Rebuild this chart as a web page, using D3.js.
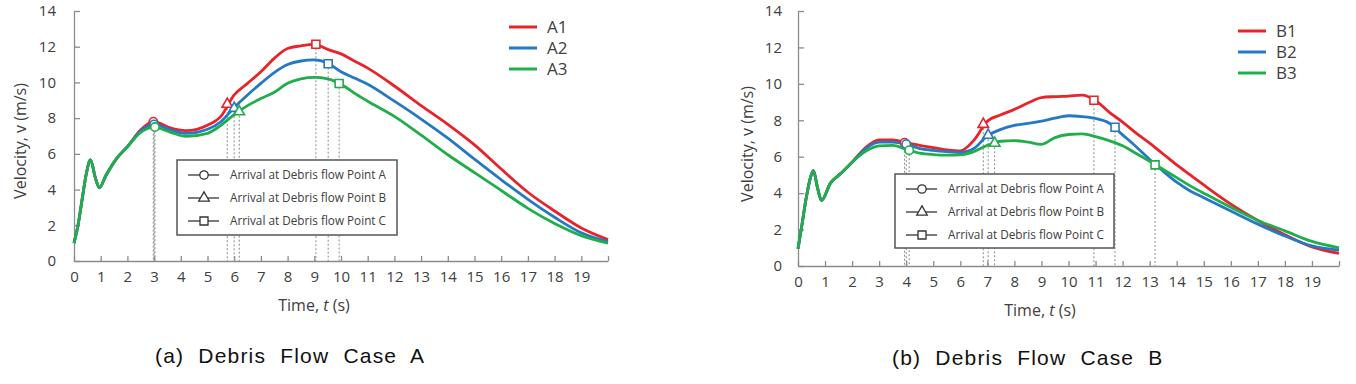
<!DOCTYPE html>
<html>
<head>
<meta charset="utf-8">
<script src="https://cdn.jsdelivr.net/npm/d3@7"></script>
<style>
  body { margin: 0; background: #fff; }
  svg text { font-family: "Open Sans", sans-serif; fill: #404040; }
  .caption { font-family: "Liberation Sans", Arial, sans-serif; fill: #111; }
</style>
</head>
<body>
<svg id="chart" width="1356" height="384"></svg>
<script>
// --- DATA: case A ---
const timeA = [0, 0.15, 0.3, 0.45, 0.62, 0.8, 0.95, 1.2, 1.6, 2.0, 2.5, 3.0, 3.6, 4.2, 5.0, 5.5, 6.0, 6.5, 7.0, 7.5, 8.0, 8.5, 9.0, 9.5, 10, 10.5, 11, 12, 13, 14, 15, 16, 17, 18, 19, 20];
const velA1 = [1.0, 2.0, 3.4, 4.8, 5.66, 4.65, 4.1, 4.8, 5.75, 6.4, 7.35, 7.8, 7.45, 7.3, 7.6, 8.1, 9.3, 9.95, 10.6, 11.35, 11.9, 12.05, 12.13, 11.85, 11.6, 11.2, 10.8, 9.8, 8.7, 7.65, 6.5, 5.15, 3.85, 2.8, 1.85, 1.2];
const velA2 = [1.0, 2.0, 3.4, 4.8, 5.66, 4.65, 4.1, 4.8, 5.75, 6.4, 7.28, 7.65, 7.35, 7.15, 7.38, 7.8, 8.6, 9.3, 9.95, 10.55, 11.0, 11.2, 11.26, 11.08, 10.6, 10.25, 9.9, 8.95, 7.95, 6.88, 5.7, 4.55, 3.45, 2.45, 1.58, 1.08];
const velA3 = [1.0, 2.0, 3.4, 4.8, 5.66, 4.65, 4.1, 4.8, 5.75, 6.4, 7.2, 7.5, 7.22, 6.98, 7.15, 7.6, 8.2, 8.7, 9.1, 9.45, 9.95, 10.2, 10.28, 10.2, 9.9, 9.4, 8.95, 8.1, 7.05, 5.95, 4.95, 3.95, 2.95, 2.1, 1.42, 1.0];
// arrival markers [t, v] per series (1, 2, 3)
const arrivalA_pointA = [[2.97, 7.8], [3.0, 7.65], [3.03, 7.5]];
const arrivalA_pointB = [[5.74, 8.78], [6.0, 8.55], [6.19, 8.36]];
const arrivalA_pointC = [[9.06, 12.14], [9.52, 11.05], [9.93, 9.94]];

// --- DATA: case B ---
const timeB = [0, 0.15, 0.3, 0.45, 0.57, 0.72, 0.87, 1.2, 1.6, 2.0, 2.5, 3.0, 3.5, 4.0, 4.5, 5.0, 5.5, 6.0, 6.5, 7.0, 7.5, 8.0, 8.5, 9.0, 9.5, 10, 10.5, 11, 11.5, 12, 12.5, 13, 13.5, 14, 14.5, 15, 16, 17, 18, 19, 20];
const velB1 = [0.95, 2.3, 3.7, 4.8, 5.23, 4.3, 3.6, 4.55, 5.1, 5.7, 6.5, 6.93, 6.93, 6.77, 6.62, 6.5, 6.38, 6.32, 6.9, 7.95, 8.3, 8.6, 8.95, 9.25, 9.3, 9.33, 9.38, 9.08, 8.45, 7.9, 7.3, 6.75, 6.15, 5.55, 5.0, 4.45, 3.4, 2.5, 1.72, 1.05, 0.69];
const velB2 = [0.95, 2.3, 3.7, 4.8, 5.23, 4.3, 3.6, 4.55, 5.1, 5.7, 6.45, 6.8, 6.8, 6.68, 6.45, 6.35, 6.28, 6.23, 6.45, 7.15, 7.5, 7.72, 7.83, 7.95, 8.12, 8.25, 8.2, 8.1, 7.85, 7.2, 6.55, 5.85, 5.2, 4.6, 4.12, 3.75, 3.02, 2.3, 1.65, 1.1, 0.87];
const velB3 = [0.95, 2.3, 3.7, 4.8, 5.23, 4.3, 3.6, 4.55, 5.1, 5.7, 6.3, 6.6, 6.62, 6.4, 6.2, 6.12, 6.09, 6.1, 6.28, 6.62, 6.85, 6.88, 6.8, 6.68, 7.05, 7.22, 7.25, 7.1, 6.88, 6.6, 6.18, 5.75, 5.3, 4.85, 4.4, 4.0, 3.22, 2.5, 1.93, 1.35, 1.0];
const arrivalB_pointA = [[3.94, 6.77], [4.0, 6.69], [4.11, 6.36]];
const arrivalB_pointB = [[6.85, 7.78], [7.03, 7.18], [7.27, 6.74]];
const arrivalB_pointC = [[10.94, 9.1], [11.72, 7.62], [13.2, 5.55]];

// --- AXES / LABELS ---
const xTicks = d3.range(0, 21);
const yTicks = d3.range(0, 15, 2);
const arrivalLabels = ["Arrival at Debris flow Point A", "Arrival at Debris flow Point B", "Arrival at Debris flow Point C"];
const seriesColors = ["#e8232a", "#2478c4", "#20ae4c"];

const svg = d3.select("#chart");

const panels = [
  {
    names: ["A1", "A2", "A3"], time: timeA, values: [velA1, velA2, velA3],
    arrivals: [arrivalA_pointA, arrivalA_pointB, arrivalA_pointC],
    left: 74, right: 608, top: 11, bottom: 261, yPad: 18,
    box: {x: 177, y: 160, w: 220, h: 75},
    legend: {x: 509, y: 27},
    yTitle: {x: 20, y: 141}, xTitle: {x: 314, y: 311},
    caption: {x: 155, y: 363, text: "(a) Debris Flow Case A"}
  },
  {
    names: ["B1", "B2", "B3"], time: timeB, values: [velB1, velB2, velB3],
    arrivals: [arrivalB_pointA, arrivalB_pointB, arrivalB_pointC],
    left: 798, right: 1339, top: 11, bottom: 266, yPad: 16,
    box: {x: 895, y: 174, w: 219, h: 74},
    legend: {x: 1238, y: 31},
    yTitle: {x: 747, y: 144}, xTitle: {x: 1040, y: 316},
    caption: {x: 892, y: 365, text: "(b) Debris Flow Case B"}
  }
];

const symbols = [d3.symbolCircle, d3.symbolTriangle, d3.symbolSquare];
const symbolSizes = [55, 48, 64];

panels.forEach(p => drawPanel(p));

function drawPanel(p) {
  const g = svg.append("g");

  const x = d3.scaleLinear().domain([0, 20]).range([p.left, p.right]);
  const y = d3.scaleLinear().domain([0, 14]).range([p.bottom, p.top]);

  // dotted drop lines from arrival markers
  p.arrivals.forEach(pts => {
    g.selectAll(null)
      .data(pts)
      .enter().append("line")
      .attr("x1", d => x(d[0])).attr("x2", d => x(d[0]))
      .attr("y1", d => y(d[1])).attr("y2", y(0))
      .attr("stroke", "#8a8a8a")
      .attr("stroke-width", 1)
      .attr("stroke-dasharray", "2,2");
  });

  // axes
  const xAxis = g.append("g")
    .attr("transform", `translate(0,${p.bottom})`)
    .call(d3.axisBottom(x).tickValues(xTicks)
      .tickFormat(d => d < 20 ? d : "")
      .tickSizeInner(-5).tickSizeOuter(0).tickPadding(10));
  const yAxis = g.append("g")
    .attr("transform", `translate(${p.left},0)`)
    .call(d3.axisLeft(y).tickValues(yTicks)
      .tickSizeInner(-6).tickSizeOuter(0).tickPadding(p.yPad));
  [xAxis, yAxis].forEach(a => {
    a.selectAll("path, line").attr("stroke", "#8c8c8c").attr("stroke-width", 1.3);
    a.selectAll("text").attr("font-size", 15).attr("fill", "#404040")
      .attr("font-family", "'Open Sans', sans-serif");
  });

  // legend box (covers drop lines)
  const box = g.append("g").attr("transform", `translate(${p.box.x},${p.box.y})`);
  box.append("rect")
    .attr("width", p.box.w).attr("height", p.box.h)
    .attr("fill", "#fff").attr("stroke", "#555").attr("stroke-width", 1.5);
  const rowY = [15, 38, 61];
  arrivalLabels.forEach((lab, i) => {
    const r = box.append("g").attr("transform", `translate(0,${rowY[i]})`);
    r.append("line").attr("x1", 11).attr("x2", 42)
      .attr("stroke", "#333").attr("stroke-width", 1.3);
    r.append("path")
      .attr("transform", "translate(27,0)")
      .attr("d", d3.symbol(symbols[i], symbolSizes[i])())
      .attr("fill", "#fff").attr("stroke", "#333").attr("stroke-width", 1.3);
    r.append("text").attr("x", 53).attr("dy", "0.35em")
      .attr("font-size", 12.5)
      .attr("textLength", 156).attr("lengthAdjust", "spacingAndGlyphs")
      .attr("fill", "#333").text(lab);
  });

  // series lines
  const line = d3.line()
    .x((d, i) => x(p.time[i]))
    .y(d => y(d))
    .curve(d3.curveMonotoneX);
  p.values.forEach((vals, k) => {
    g.append("path")
      .datum(vals)
      .attr("d", line)
      .attr("fill", "none")
      .attr("stroke", seriesColors[k])
      .attr("stroke-width", 2.8)
      .attr("stroke-linejoin", "round");
  });

  // arrival markers
  p.arrivals.forEach((pts, j) => {
    g.selectAll(null)
      .data(pts)
      .enter().append("path")
      .attr("transform", d => `translate(${x(d[0])},${y(d[1])})`)
      .attr("d", d3.symbol(symbols[j], symbolSizes[j])())
      .attr("fill", "#fff")
      .attr("stroke", (d, k) => seriesColors[k])
      .attr("stroke-width", 1.6);
  });

  // series legend
  p.names.forEach((n, k) => {
    const ly = p.legend.y + k * 21;
    g.append("line")
      .attr("x1", p.legend.x).attr("x2", p.legend.x + 28)
      .attr("y1", ly).attr("y2", ly)
      .attr("stroke", seriesColors[k]).attr("stroke-width", 3);
    g.append("text")
      .attr("x", p.legend.x + 38).attr("y", ly).attr("dy", "0.36em")
      .attr("font-size", 17).text(n);
  });

  // axis titles
  g.append("text")
    .attr("transform", `translate(${p.yTitle.x},${p.yTitle.y}) rotate(-90)`)
    .attr("text-anchor", "middle").attr("dy", "0.35em")
    .attr("font-size", 16).text("Velocity, v (m/s)");
  const xt = g.append("text")
    .attr("x", p.xTitle.x).attr("y", p.xTitle.y)
    .attr("text-anchor", "middle").attr("font-size", 16);
  xt.append("tspan").text("Time, ");
  xt.append("tspan").attr("font-style", "italic").text("t");
  xt.append("tspan").text(" (s)");

  // caption
  g.append("text")
    .attr("class", "caption")
    .attr("x", p.caption.x).attr("y", p.caption.y)
    .attr("font-size", 21)
    .attr("letter-spacing", "1.2px")
    .attr("word-spacing", "7px")
    .text(p.caption.text);
}
</script>
</body>
</html>
